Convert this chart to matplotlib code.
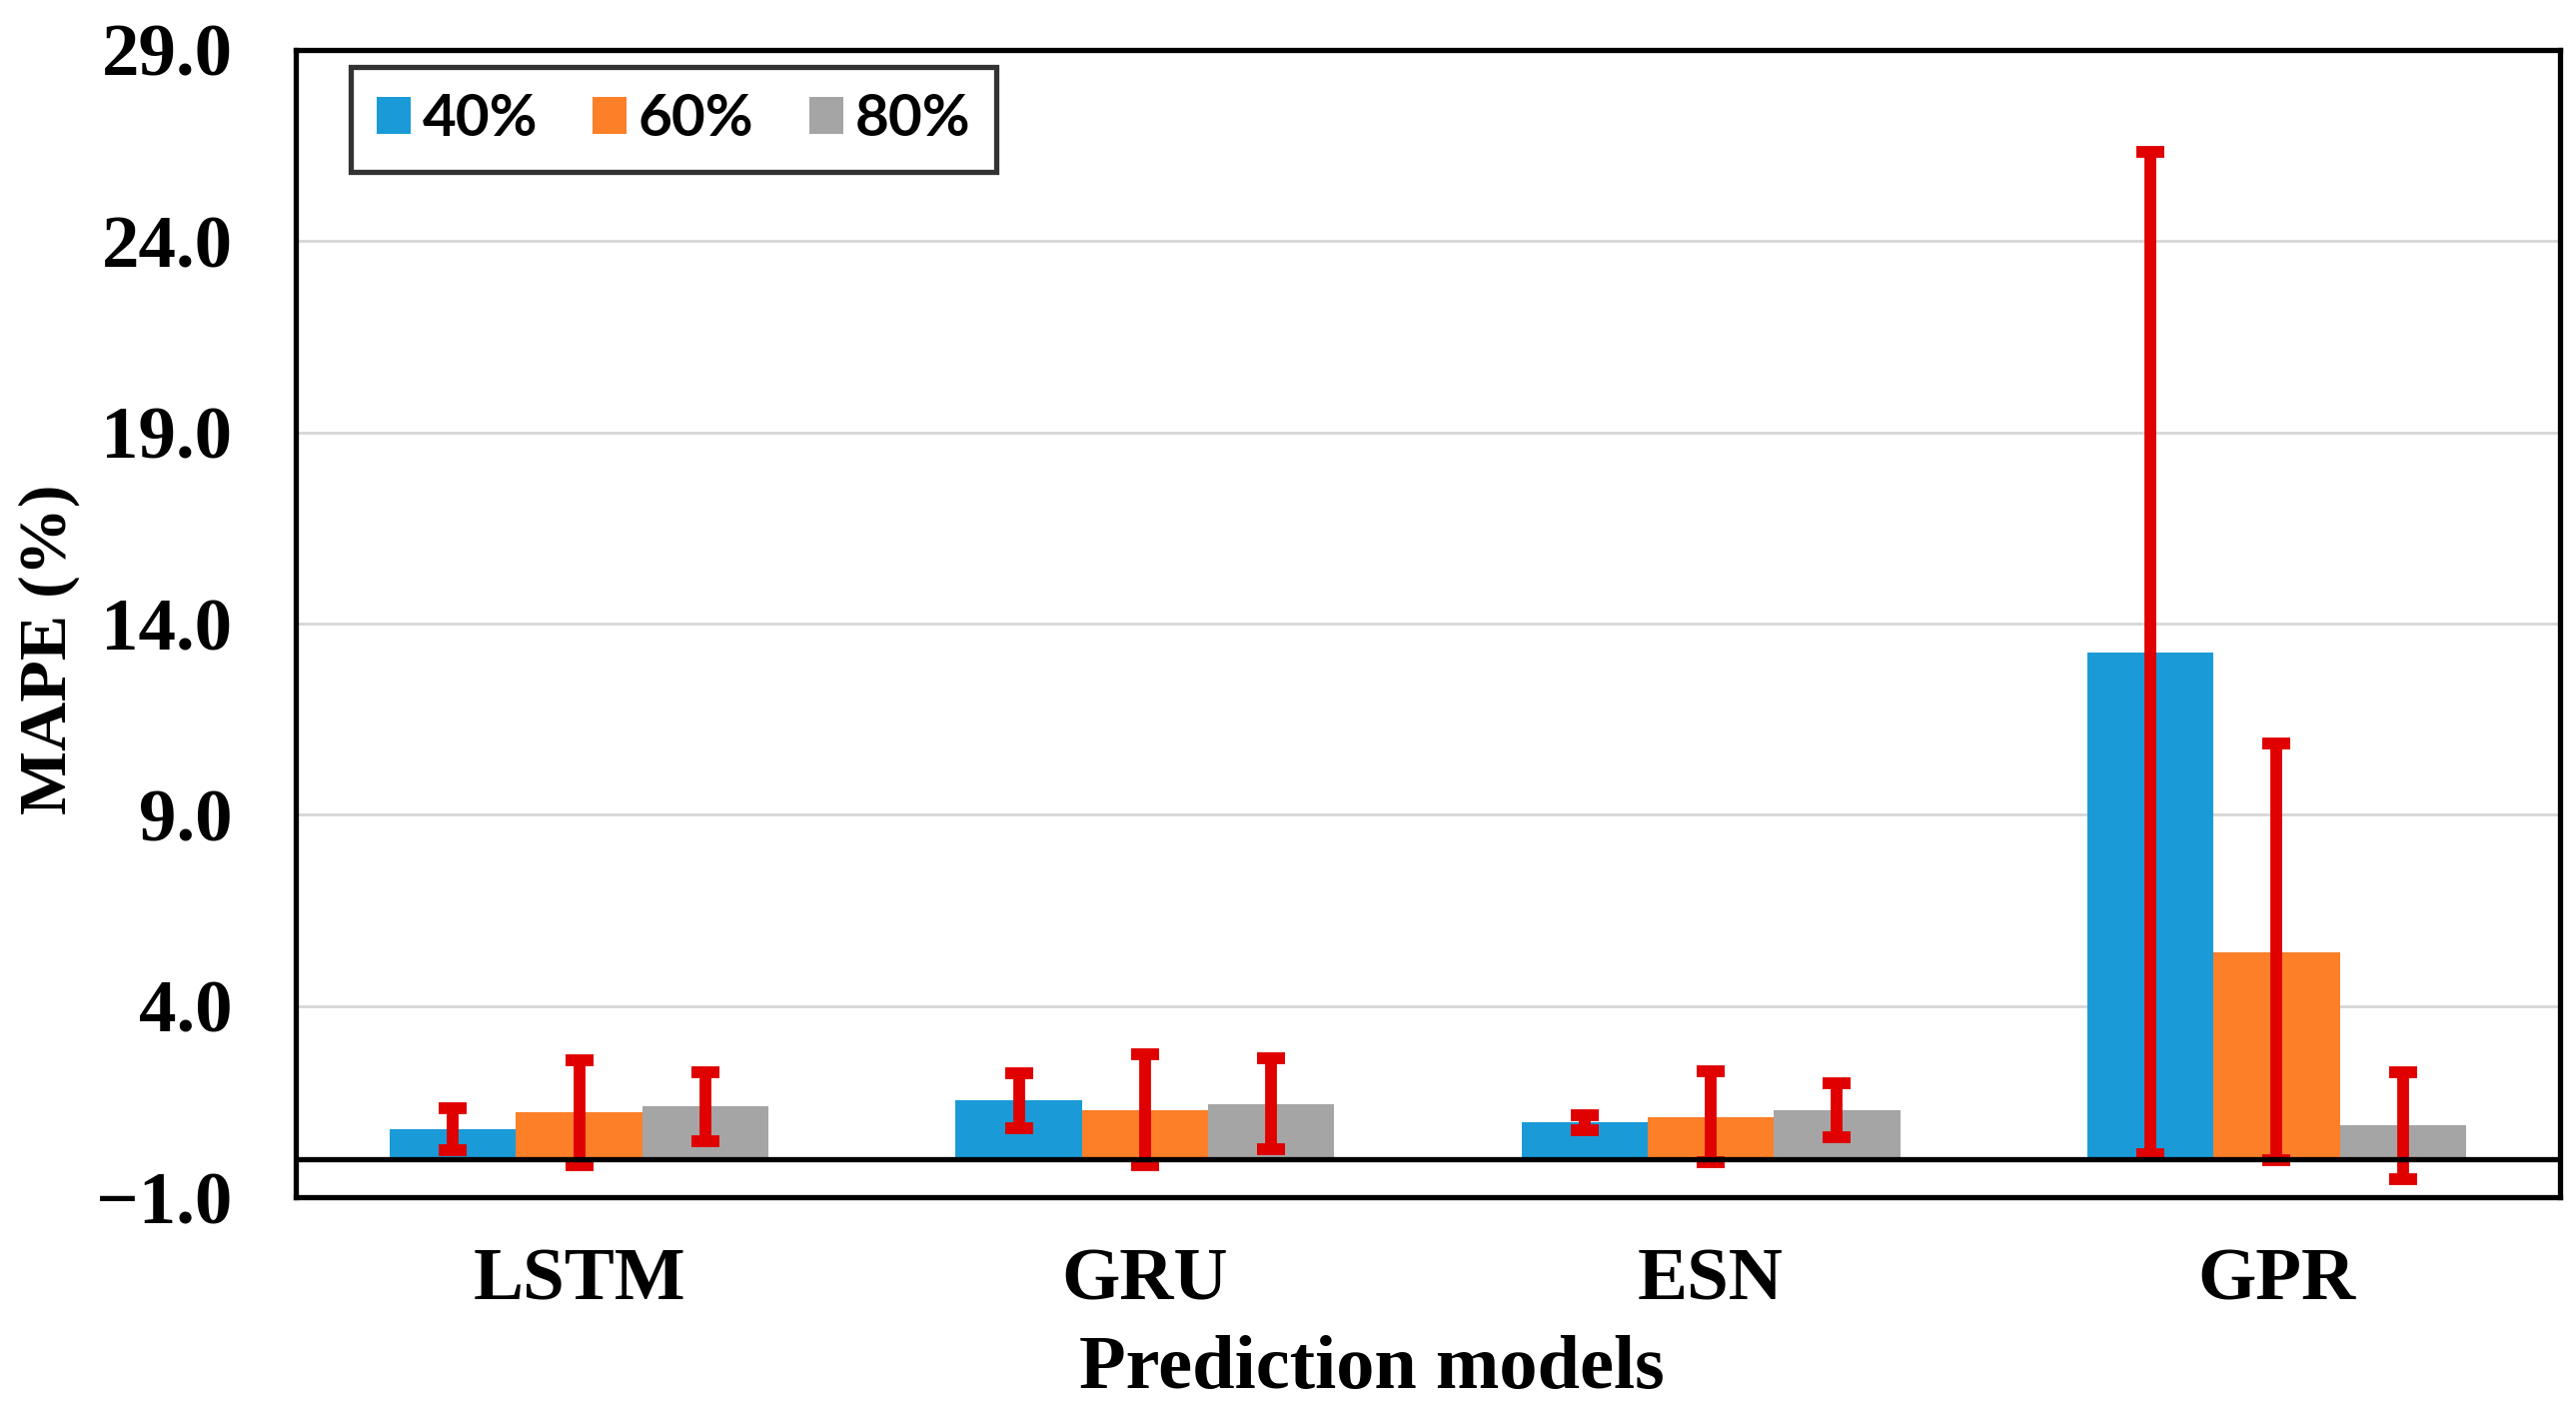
import matplotlib
matplotlib.use("Agg")
import matplotlib.pyplot as plt
import numpy as np
from matplotlib.patches import Patch

models = ["LSTM", "GRU", "ESN", "GPR"]
series = ["40%", "60%", "80%"]
mape_40 = [0.79, 1.53, 0.96, 13.24]
mape_60 = [1.22, 1.29, 1.11, 5.42]
mape_80 = [1.38, 1.45, 1.28, 0.88]
err_40 = [0.55, 0.72, 0.20, 13.1]
err_60 = [1.37, 1.45, 1.18, 5.45]
err_80 = [0.90, 1.18, 0.70, 1.39]
yticks = [-1.0, 4.0, 9.0, 14.0, 19.0, 24.0, 29.0]

colors = ["#1a9bd7", "#fd7f28", "#a5a5a5"]
red = "#e00000"

fig = plt.figure(figsize=(25.78, 14.19), dpi=100)
ax = fig.add_axes([0.115, 0.1555, 0.8786, 0.8095])

x = np.arange(len(models))
w = 0.223
vals = [mape_40, mape_60, mape_80]
errs = [err_40, err_60, err_80]
for i, (v, e, c) in enumerate(zip(vals, errs, colors)):
    xs = x + (i - 1) * w
    ax.bar(xs, v, width=w, color=c, zorder=2, label=series[i])
    ax.errorbar(xs, v, yerr=e, fmt="none", ecolor=red, elinewidth=8.5,
                capsize=10, capthick=8.5, zorder=3)

ax.axhline(0, color="black", lw=3.8, zorder=4)
ax.set_ylim(-1, 29)
ax.set_xlim(-0.5, 3.5)
ax.set_yticks(yticks)
ax.set_yticklabels([f"{t:.1f}".replace("-", "\u2212") for t in yticks])
ax.set_xticks(x)
ax.set_xticklabels(models)
for gy in yticks[1:-1]:
    ax.axhline(gy, color="#d6d6d6", lw=2, zorder=0)
ax.tick_params(axis="both", length=0)
ax.tick_params(axis="y", pad=46)
ax.tick_params(axis="x", pad=36)
for lab in ax.get_yticklabels() + ax.get_xticklabels():
    lab.set_fontfamily("Liberation Serif")
    lab.set_fontweight("bold")
    lab.set_fontsize(54)
for s in ax.spines.values():
    s.set_linewidth(3.8)
    s.set_color("black")

fig.text(0.5325, 0.034, "Prediction models", ha="center", va="center",
         fontfamily="Liberation Serif", fontweight="bold", fontsize=55)
fig.text(0.019, 0.542, "MAPE (%)", ha="center", va="center", rotation=90,
         fontfamily="Liberation Serif", fontweight="bold", fontsize=49)

handles = [Patch(facecolor=c, edgecolor="none") for c in colors]
leg = ax.legend(handles, series, loc="upper left", bbox_to_anchor=(0.024, 0.985),
                borderaxespad=0, ncol=3, frameon=True, fancybox=False, borderpad=0.45,
                handlelength=0.58, handleheight=0.58, handletextpad=0.2,
                columnspacing=0.95, prop={"family": "Lato", "weight": "bold", "size": 42})
leg.get_frame().set_edgecolor("black")
leg.get_frame().set_linewidth(3.8)
leg.set_zorder(5)

fig.savefig("out.png", dpi=100, facecolor="white")
